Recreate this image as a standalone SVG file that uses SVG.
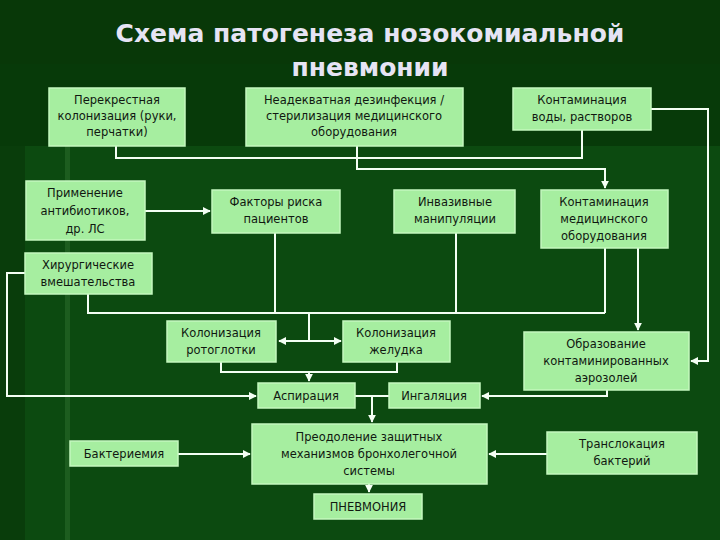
<svg xmlns="http://www.w3.org/2000/svg" width="720" height="540" viewBox="0 0 720 540">
<defs>
<style>
.b{fill:#a6eea0;stroke:#c4f8be;stroke-width:1.5}
.t{font-family:"DejaVu Sans",Verdana,sans-serif;font-size:11.5px;fill:#101810;text-anchor:middle}
.c{fill:none;stroke:#f4fff4;stroke-width:2}
.h{font-family:"DejaVu Sans",sans-serif;font-weight:bold;font-size:25px;fill:#e6e4f4;text-anchor:middle}
</style>
<marker id="a" viewBox="0 0 10 10" refX="9" refY="5" markerWidth="4" markerHeight="4" orient="auto"><path d="M0,0L10,5L0,10z" fill="#f4fff4"/></marker>
<marker id="s" viewBox="0 0 10 10" refX="1" refY="5" markerWidth="4" markerHeight="4" orient="auto"><path d="M10,0L0,5L10,10z" fill="#f4fff4"/></marker>
</defs>
<rect width="720" height="540" fill="#0c4a10"/>
<rect width="720" height="64" y="0" fill="#083808"/>
<rect x="0" y="64" width="720" height="82" fill="#073a09"/>
<rect x="0" y="146" width="25" height="394" fill="#093d0b"/>
<rect x="65" y="146" width="5" height="394" fill="#2a6a2a" opacity="0.6"/>
<text class="h" x="370" y="42">Схема патогенеза нозокомиальной</text>
<text class="h" x="370" y="76">пневмонии</text>
<g id="connectors">
<polyline class="c" points="116,146 116,158 582,158 582,130"/>
<polyline class="c" points="357,146 357,169 605,169 605,188" marker-end="url(#a)"/>
<polyline class="c" points="651,109 708,109 708,361 691,361" marker-end="url(#a)"/>
<polyline class="c" points="145,211 210,211" marker-end="url(#a)"/>
<polyline class="c" points="25,273 7,273 7,396 256,396" marker-end="url(#a)"/>
<polyline class="c" points="88,294 88,313 605,313"/>
<line class="c" x1="275" y1="233" x2="275" y2="313"/>
<line class="c" x1="456" y1="233" x2="456" y2="313"/>
<line class="c" x1="605" y1="248" x2="605" y2="313"/>
<line class="c" x1="309" y1="313" x2="309" y2="341"/>
<line class="c" x1="279" y1="341" x2="341" y2="341" marker-start="url(#s)" marker-end="url(#a)"/>
<line class="c" x1="638" y1="248" x2="638" y2="330" marker-end="url(#a)"/>
<polyline class="c" points="221,362 221,372 397,372 397,362"/>
<line class="c" x1="309" y1="372" x2="309" y2="381" marker-end="url(#a)"/>
<polyline class="c" points="607,390 607,396 482,396" marker-end="url(#a)"/>
<line class="c" x1="355" y1="396" x2="389" y2="396"/>
<line class="c" x1="372" y1="396" x2="372" y2="422" marker-end="url(#a)"/>
<line class="c" x1="178" y1="454" x2="250" y2="454" marker-end="url(#a)"/>
<line class="c" x1="547" y1="454" x2="489" y2="454" marker-end="url(#a)"/>
<line class="c" x1="369" y1="484" x2="369" y2="492" marker-end="url(#a)"/>
</g>
<g id="n1"><rect class="b" x="49" y="88" width="136" height="58"/><text class="t" x="117" y="104">Перекрестная</text><text class="t" x="117" y="120">колонизация (руки,</text><text class="t" x="117" y="136">перчатки)</text></g>
<g id="n2"><rect class="b" x="246" y="88" width="217" height="58"/><text class="t" x="354" y="104">Неадекватная дезинфекция /</text><text class="t" x="354" y="120">стерилизация медицинского</text><text class="t" x="354" y="136">оборудования</text></g>
<g id="n3"><rect class="b" x="513" y="88" width="138" height="42"/><text class="t" x="582" y="104">Контаминация</text><text class="t" x="582" y="121">воды, растворов</text></g>
<g id="n4"><rect class="b" x="26" y="181" width="119" height="59"/><text class="t" x="85" y="197">Применение</text><text class="t" x="85" y="215">антибиотиков,</text><text class="t" x="85" y="233">др. ЛС</text></g>
<g id="n5"><rect class="b" x="212" y="190" width="128" height="43"/><text class="t" x="276" y="206">Факторы риска</text><text class="t" x="276" y="223">пациентов</text></g>
<g id="n6"><rect class="b" x="394" y="190" width="121" height="43"/><text class="t" x="455" y="206">Инвазивные</text><text class="t" x="455" y="223">манипуляции</text></g>
<g id="n7"><rect class="b" x="541" y="190" width="127" height="58"/><text class="t" x="604" y="206">Контаминация</text><text class="t" x="604" y="223">медицинского</text><text class="t" x="604" y="240">оборудования</text></g>
<g id="n8"><rect class="b" x="25" y="253" width="127" height="41"/><text class="t" x="88" y="269">Хирургические</text><text class="t" x="88" y="286">вмешательства</text></g>
<g id="n9"><rect class="b" x="167" y="321" width="109" height="41"/><text class="t" x="221" y="337">Колонизация</text><text class="t" x="221" y="354">ротоглотки</text></g>
<g id="n10"><rect class="b" x="343" y="321" width="107" height="41"/><text class="t" x="396" y="337">Колонизация</text><text class="t" x="396" y="354">желудка</text></g>
<g id="n11"><rect class="b" x="524" y="332" width="165" height="58"/><text class="t" x="606" y="348">Образование</text><text class="t" x="606" y="365">контаминированных</text><text class="t" x="606" y="382">аэрозолей</text></g>
<g id="n12"><rect class="b" x="258" y="383" width="97" height="25"/><text class="t" x="306" y="400">Аспирация</text></g>
<g id="n13"><rect class="b" x="389" y="383" width="91" height="25"/><text class="t" x="434" y="400">Ингаляция</text></g>
<g id="n14"><rect class="b" x="70" y="441" width="108" height="25"/><text class="t" x="124" y="458">Бактериемия</text></g>
<g id="n15"><rect class="b" x="252" y="424" width="235" height="60"/><text class="t" x="369" y="441">Преодоление защитных</text><text class="t" x="369" y="458">механизмов бронхолегочной</text><text class="t" x="369" y="475">системы</text></g>
<g id="n16"><rect class="b" x="547" y="432" width="150" height="42"/><text class="t" x="622" y="448">Транслокация</text><text class="t" x="622" y="465">бактерий</text></g>
<g id="n17"><rect class="b" x="314" y="494" width="108" height="25"/><text class="t" x="368" y="511">ПНЕВМОНИЯ</text></g>
</svg>
